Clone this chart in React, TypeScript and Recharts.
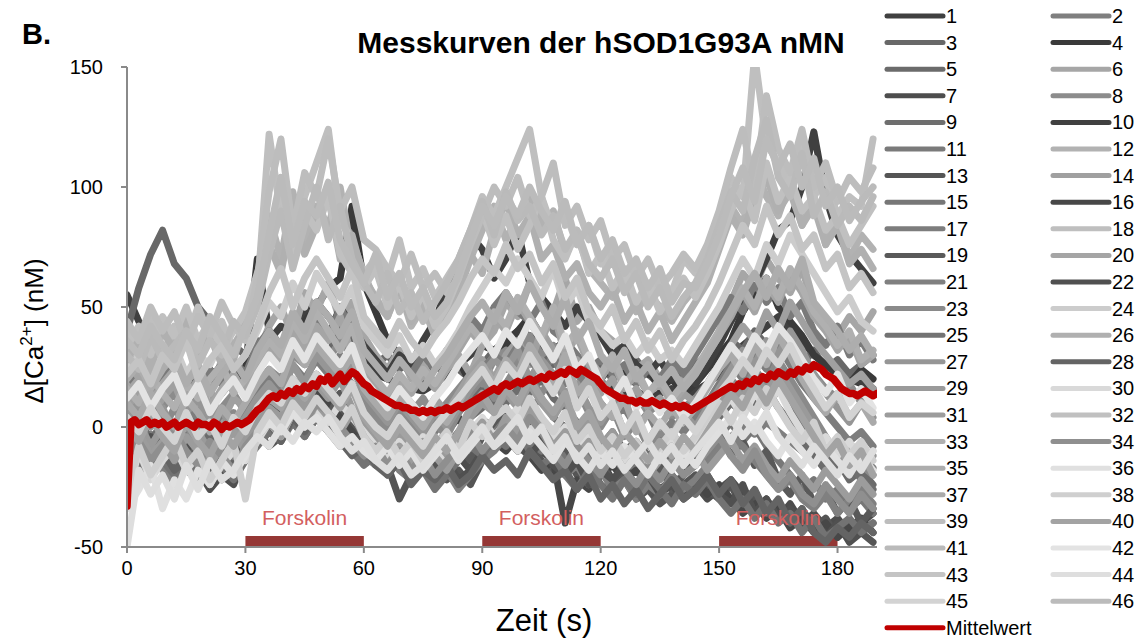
import React from 'react';
import { LineChart, Line, XAxis, YAxis, ReferenceArea } from 'recharts';

// ─── Messkurven hSOD1G93A nMN ──────────────────────────────────
// 46 single-cell traces (sampled every 3 s) plus the mean (every 1 s).

const FONT = '"Liberation Sans", Arial, sans-serif';

const X_TICKS = [0, 30, 60, 90, 120, 150, 180];
const Y_TICKS = [-50, 0, 50, 100, 150];
const FORSKOLIN = [[30, 60], [90, 120], [150, 180]];

const COLORS = [
  '#404040', '#7f7f7f', '#686868', '#3a3a3a', '#6b6b6b', '#a6a6a6', '#4d4d4d', '#8c8c8c',
  '#6e6e6e', '#404040', '#7a7a7a', '#b2b2b2', '#555555', '#a0a0a0', '#777777', '#474747',
  '#7d7d7d', '#bfbfbf', '#595959', '#a5a5a5', '#808080', '#505050', '#8a8a8a', '#cccccc',
  '#737373', '#b0b0b0', '#969696', '#646464', '#9a9a9a', '#d9d9d9', '#9c9c9c', '#c0c0c0',
  '#b0b0b0', '#8f8f8f', '#adadad', '#e0e0e0', '#aaaaaa', '#cfcfcf', '#bdbdbd', '#a3a3a3',
  '#bababa', '#e3e3e3', '#c4c4c4', '#dedede', '#d3d3d3', '#bbbbbb',
];

// t = 0, 3, 6 ... 189 s
const S1 = [55,44,38,30,26,22,20,24,18,21,25,30,36,42,40,48, 52,46,40,34,28,22,20,18,16,15,18,22,26,30,34,32, 36,40,38,34,30,28,24,20,18,16,14,15,12,14,16,13, 15,18,22,28,34,38,42,46,40,36,30,26,22,20,18,16];
const S2 = [-5,-8,-3,-10,-6,-2,-8,-12,-4,-7,-9,-3,2,5,1,6, 4,8,2,-1,-4,-8,-6,-10,-12,-8,-14,-10,-6,-2,3,0, 5,2,7,3,-2,-5,-9,-6,-11,-8,-13,-10,-15,-9,-12,-16, -10,-14,-8,-4,0,-3,2,-2,-6,-10,-14,-12,-18,-15,-20,-17];
const S3 = [40,58,72,82,68,62,50,44,38,34,30,36,32,28,34,40, 36,30,42,38,32,26,30,24,28,22,26,30,24,20,26,32, 28,34,38,30,26,32,28,22,26,20,24,28,22,18,24,20, 26,30,24,36,32,40,34,38,30,26,32,24,28,22,26,30];
const S4 = [20,15,22,12,18,10,16,8,14,20,24,70,40,34,30,44, 50,58,62,92,60,48,36,30,24,20,26,22,28,18,24,30, 34,40,46,38,32,36,28,24,20,26,22,18,24,16,20,14, 18,24,30,36,48,56,62,50,44,38,30,26,22,18,24,20];
const S5 = [8,2,10,4,-2,6,0,-6,3,-4,2,10,14,8,18,12, 20,14,22,16,10,4,-2,-6,-10,-4,-8,-2,6,12,16,10, 18,24,14,20,12,8,2,-4,-8,-2,-10,-6,-12,-8,-14,-10, -6,0,6,12,18,10,16,8,2,-6,-12,-18,-14,-22,-18,-24];
const S6 = [18,24,12,20,26,16,22,14,28,20,18,30,42,50,38,56, 48,60,44,52,38,30,24,32,20,26,18,24,30,22,34,40, 52,46,60,54,48,62,44,50,40,36,30,24,28,20,26,18, 24,30,40,52,64,58,70,62,56,66,50,44,38,46,40,48];
const S7 = [-4,-10,-6,-14,-8,-16,-12,-20,-14,-10,-6,-2,4,-2,6,2, 8,4,10,2,-4,-8,-14,-10,-18,-14,-20,-16,-12,-18,-10,-6, -2,-8,-4,-10,-14,-8,-16,-20,-14,-22,-18,-24,-20,-26,-22,-28, -24,-30,-26,-22,-28,-34,-30,-38,-32,-40,-36,-42,-38,-44,-40,-36];
const S8 = [12,6,16,8,14,4,10,2,8,14,6,18,24,20,30,26, 34,28,36,30,22,16,10,14,6,12,4,10,16,22,18,28, 32,26,38,30,34,28,22,16,20,12,8,14,6,10,4,8, 12,18,26,32,28,36,30,40,34,28,22,16,12,18,10,14];
const S9 = [-2,4,-6,2,-8,0,-4,-10,-2,-6,0,6,10,4,12,8, 16,10,14,6,0,-4,-8,-2,-10,-6,-12,-8,-2,4,8,14, 10,16,8,12,4,0,-6,-2,-10,-6,-14,-8,-12,-16,-10,-14, -8,-2,4,10,6,14,8,16,10,2,-6,-12,-18,-14,-22,-26];
const S10 = [24,30,20,26,18,22,14,20,26,18,24,32,38,30,42,36, 44,38,50,42,34,28,22,30,26,36,44,58,68,80,74,62, 70,82,60,54,48,42,50,44,38,30,34,26,22,28,20,24, 18,26,34,44,52,60,70,82,86,100,123,96,80,72,66,60];
const S11 = [22,16,26,18,30,20,14,24,18,28,22,34,40,32,46,38, 44,36,50,40,32,26,20,28,22,30,24,32,38,46,40,50, 56,48,44,52,40,36,30,24,28,22,26,18,24,20,28,22, 30,38,46,54,48,60,52,58,46,52,40,34,42,30,36,28];
const S12 = [30,38,26,42,34,46,30,40,36,28,44,60,88,70,98,76, 92,84,100,72,64,52,46,58,42,50,38,46,56,70,82,92, 78,88,96,84,90,72,80,66,60,54,62,48,56,50,44,52, 58,66,78,92,84,108,96,88,102,84,96,76,88,70,80,74];
const S13 = [-8,-14,-10,-16,-12,-18,-22,-20,-14,-10,-6,-2,-8,-4,2,-4, 4,-2,6,0,-6,-10,-16,-30,-20,-14,-16,-22,-18,-24,-14,-8, -4,-10,-6,-14,-18,-12,-20,-16,-24,-28,-22,-30,-26,-32,-28,-24, -20,-26,-30,-24,-34,-28,-36,-32,-40,-34,-42,-38,-46,-40,-44,-48];
const S14 = [8,14,4,12,18,6,10,16,2,12,8,16,24,18,32,26, 36,30,24,34,20,14,8,16,10,4,12,6,14,22,28,20, 30,36,26,40,32,24,28,18,14,20,10,16,8,12,6,14, 10,18,26,34,42,36,48,40,52,44,36,30,24,18,22,16];
const S15 = [-12,-6,-14,-8,-16,-10,-4,-12,-8,-14,-6,0,6,2,10,4, 12,6,0,-4,-10,-14,-8,-16,-12,-18,-10,-14,-6,-10,-2,2, -4,2,-6,-10,-4,-12,-16,-10,-18,-14,-20,-16,-22,-18,-24,-20, -16,-10,-4,2,-6,0,-8,-14,-20,-26,-22,-30,-26,-34,-30,-36];
const S16 = [2,-4,6,-2,-8,0,-6,-12,-4,-10,-2,4,10,6,14,8, 16,10,4,-2,-8,-12,-6,-14,-10,-16,-8,-2,4,-4,2,-6, -10,-4,-12,-18,-14,-40,-22,-26,-20,-16,-22,-18,-24,-14,-20,-26, -22,-28,-24,-30,-36,-32,-38,-34,-42,-38,-44,-40,-46,-42,-38,-44];
const S17 = [6,0,10,2,-4,8,4,-2,6,0,8,14,20,14,26,20, 28,22,30,24,16,10,4,8,0,6,-2,4,12,18,24,30, 26,34,28,22,30,18,24,14,10,4,8,0,6,-4,2,-2, 4,10,18,26,20,30,24,34,26,18,12,6,0,-6,-2,-8];
const S18 = [40,34,46,30,42,36,50,38,44,32,40,56,122,88,74,96, 110,124,86,78,64,70,62,78,58,66,54,62,70,82,96,88, 100,112,124,96,82,90,76,84,68,72,60,66,54,62,56,70, 64,72,88,104,96,155,118,110,100,120,96,104,88,96,92,120];
const S19 = [-6,0,-10,-4,-12,-8,-16,-10,-20,-14,-8,-2,4,-4,8,2, 10,4,14,8,0,-6,-12,-8,-16,-10,-20,-14,-8,-14,-4,2, 8,-2,4,-6,-12,-8,-16,-20,-14,-24,-18,-28,-22,-16,-26,-20, -14,-8,-2,-12,-6,-16,-10,-22,-28,-20,-32,-26,-36,-30,-40,-34];
const S20 = [14,20,10,18,24,12,20,8,16,22,14,26,34,28,40,32, 42,36,46,30,24,18,12,20,14,22,16,24,32,40,34,46, 40,52,44,36,48,30,38,26,20,28,16,22,14,18,10,16, 22,30,38,46,56,48,60,52,64,56,46,40,32,38,26,30];
const S21 = [-14,-20,-10,-18,-24,-12,-20,-16,-22,-14,-10,-4,2,-2,6,0, 4,-2,-8,-4,-12,-16,-10,-18,-22,-16,-24,-18,-26,-20,-14,-10, -4,-10,-2,-8,-14,-20,-16,-24,-18,-26,-22,-30,-24,-28,-20,-26, -22,-16,-10,-4,-8,-14,-20,-26,-22,-30,-34,-28,-36,-30,-26,-32];
const S22 = [-6,-12,-4,-10,-14,-8,-18,-26,-20,-24,-12,-6,0,-4,4,-2, 6,2,-4,-8,-2,-10,-14,-8,-16,-12,-20,-14,-22,-18,-10,-6, -2,-8,-12,-6,-16,-20,-14,-24,-18,-22,-16,-26,-20,-28,-24,-30, -26,-20,-28,-32,-24,-36,-30,-38,-34,-42,-38,-46,-40,-48,-44,-40];
const S23 = [2,-4,6,-2,8,0,-6,4,-2,6,0,8,16,10,20,14, 22,16,24,18,10,4,-2,6,0,-6,2,-4,6,14,20,12, 18,26,20,14,22,10,16,6,0,8,-4,2,-8,-2,-6,-10, -4,4,12,20,14,24,18,28,20,12,4,-4,-12,-6,-16,-20];
const S24 = [24,30,20,28,34,22,30,26,36,24,30,40,52,46,60,50, 64,56,48,58,42,36,30,38,28,34,26,32,40,50,58,66, 60,70,62,54,66,50,58,44,40,34,38,30,36,28,32,26, 34,42,50,60,70,62,76,68,80,72,64,56,48,54,44,40];
const S25 = [-10,-16,-8,-14,-20,-12,-18,-10,-16,-22,-14,-8,-2,-6,2,-4, 4,0,-6,-10,-16,-12,-20,-14,-22,-18,-26,-20,-14,-8,-12,-4, -8,-2,-10,-16,-12,-20,-26,-18,-24,-30,-22,-28,-20,-26,-32,-24, -28,-22,-30,-36,-30,-38,-32,-40,-36,-44,-38,-46,-42,-38,-44,-40];
const S26 = [28,36,24,40,32,44,30,38,26,34,42,58,76,64,90,72, 84,96,70,80,62,54,46,60,44,52,40,48,58,72,64,82, 94,80,88,70,76,62,68,56,50,58,44,52,40,48,36,44, 52,60,74,88,80,96,104,90,98,84,92,76,84,68,74,66];
const S27 = [4,10,0,8,-2,6,12,2,8,-4,4,12,18,12,26,18, 30,24,18,26,14,8,2,10,4,-2,6,0,8,16,22,28, 24,32,20,28,22,14,18,8,2,10,-2,4,-6,2,-4,6, 0,8,16,24,32,26,36,30,40,32,22,14,8,2,10,4];
const S28 = [-12,-6,-16,-10,-18,-14,-8,-20,-12,-16,-10,-4,2,-6,4,-2, 6,0,-6,-12,-8,-16,-20,-14,-24,-18,-22,-16,-24,-20,-12,-18, -14,-20,-10,-16,-22,-18,-26,-20,-30,-24,-32,-26,-34,-28,-22,-30, -26,-20,-28,-22,-32,-26,-36,-30,-40,-34,-44,-48,-42,-46,-40,-44];
const S29 = [-4,2,-8,0,-6,4,-2,-10,-4,2,-6,2,8,4,14,8, 18,12,20,8,2,-4,-10,-2,-8,-14,-6,-12,-4,4,10,6, 14,8,18,10,4,12,-2,4,-8,-2,-12,-6,-14,-8,-2,-10, -6,2,10,18,12,22,14,24,16,8,0,-8,-14,-10,-18,-12];
const S30 = [-30,-10,-22,-14,-8,-18,-12,-24,-16,-10,-14,-6,2,-4,6,0, 8,2,10,4,-2,-8,-14,-6,-12,-4,-10,-16,-8,-2,4,-4, 2,8,-2,4,-6,0,-10,-4,-12,-6,-14,-8,-16,-10,-4,-12, -6,0,6,12,4,14,8,16,6,-2,-8,-4,-12,-6,-14,-10];
const S31 = [-8,-2,-12,-6,-14,-4,-10,-16,-8,-2,-10,-4,2,-4,6,0, 10,4,-2,6,-4,-10,-16,-8,-14,-6,-12,-18,-10,-4,2,-6, 4,-2,8,0,-8,-2,-12,-6,-16,-10,-18,-12,-20,-14,-8,-16, -10,-18,-12,-6,-14,-8,-16,-22,-14,-20,-26,-18,-24,-30,-22,-28];
const S32 = [34,42,30,46,38,50,36,44,32,40,48,64,80,100,74,90, 82,96,72,64,58,66,50,60,46,56,42,50,62,80,90,76, 88,74,84,96,78,70,82,64,72,58,66,52,60,48,56,62, 54,64,76,90,100,86,110,94,104,90,96,82,88,76,84,92];
const S33 = [16,10,22,14,8,18,12,20,26,14,20,28,36,30,44,36, 48,40,32,42,26,20,14,22,16,24,18,26,34,42,36,48, 42,54,46,38,50,34,40,28,22,30,18,24,14,20,12,18, 24,32,40,48,58,50,62,54,66,58,48,42,34,40,28,32];
const S34 = [-12,-6,-14,-8,-2,-10,-16,-6,-12,-18,-8,-2,4,0,8,2, 10,6,0,-6,-12,-8,-16,-10,-18,-12,-20,-14,-8,-2,-10,-4, 0,-6,4,-2,-10,-16,-8,-14,-20,-12,-18,-24,-16,-22,-14,-20, -16,-10,-4,-12,-18,-10,-20,-26,-20,-28,-32,-24,-30,-36,-28,-34];
const S35 = [20,26,16,24,30,18,26,14,22,28,20,32,40,34,48,40, 52,46,38,48,32,26,20,28,22,16,24,30,38,46,52,44, 56,48,60,50,42,54,36,44,30,24,32,20,26,18,24,16, 22,30,38,48,56,64,54,66,58,70,52,46,40,32,38,30];
const S36 = [-34,-26,-16,-34,-22,-30,-18,-24,-14,-20,-12,-4,2,-2,6,0, 4,-2,-8,-4,-10,-14,-8,-16,-10,-18,-12,-6,-14,-8,-2,-8, -4,-10,-2,-8,-14,-6,-12,-18,-10,-16,-8,-14,-20,-12,-18,-10, -16,-8,-2,4,-4,2,-6,-12,-4,-10,-16,-8,-14,-20,-12,-18];
const S37 = [10,4,14,6,0,12,6,-2,8,2,10,18,24,18,32,26, 34,28,22,30,16,10,4,12,6,0,8,2,10,20,26,18, 28,22,34,26,18,30,14,20,10,4,12,-2,6,0,8,2, 8,16,24,30,22,34,26,38,30,20,12,6,14,4,10,2];
const S38 = [-28,-8,-20,-12,-4,-16,-10,-22,-14,-6,-30,-2,6,0,10,4, 12,6,0,8,-4,-10,-4,-12,-6,-14,-8,-2,-10,2,-4,4, 8,2,12,4,-2,6,-6,0,-10,-4,-12,-6,-14,-8,-2,-10, -4,4,10,2,12,6,16,8,0,-6,2,-10,-4,-12,-6,-14];
const S39 = [44,36,50,40,48,34,46,38,52,42,36,62,98,120,82,106, 96,120,90,100,78,74,66,60,72,58,64,56,62,76,88,100, 92,104,88,96,110,84,92,78,86,70,76,62,70,58,64,72, 66,76,90,108,124,100,138,116,106,124,100,110,94,104,98,108];
const S40 = [0,-6,4,-4,-10,2,-6,-12,-2,-8,0,6,12,8,18,12, 20,14,8,16,4,-2,-8,0,-6,-12,-4,-10,-2,8,14,6, 16,10,20,12,6,14,0,6,-4,-10,-2,-8,-14,-6,-12,-4, -10,-2,6,14,8,18,10,20,12,4,-4,-12,-6,-16,-10,-20];
const S41 = [30,24,38,28,34,40,26,36,30,44,38,50,72,90,66,84, 100,78,92,70,60,52,64,48,56,44,52,60,70,82,94,80, 98,86,92,80,88,74,82,68,62,70,56,64,50,58,46,54, 60,70,84,98,90,112,128,104,96,114,88,98,84,92,86,96];
const S42 = [12,18,8,16,22,10,18,6,14,20,12,22,30,24,36,28, 38,32,26,34,20,14,8,16,10,4,12,18,26,32,38,30, 40,34,44,36,28,38,24,30,18,12,20,8,14,6,12,4, 10,18,26,34,28,38,32,42,36,28,20,14,22,10,16,8];
const S43 = [22,28,18,30,24,36,20,28,34,24,30,42,56,66,50,62, 70,62,54,66,46,40,34,44,36,30,38,44,52,62,70,64, 76,66,72,60,68,54,62,48,42,50,36,44,32,40,28,36, 42,50,60,72,84,76,92,80,88,74,80,66,72,58,64,56];
const S44 = [-50,-18,-28,-20,-30,-16,-26,-14,-22,-18,-10,-4,-8,0,-6,2, -2,4,-4,-10,-6,-14,-18,-12,-20,-16,-10,-4,-12,-6,0,-8, -2,4,-6,0,-10,-4,-14,-8,-16,-10,-18,-12,-6,-14,-8,-16, -10,-4,2,-6,4,-2,6,-4,-10,-16,-8,-14,-20,-12,-18,-10];
const S45 = [4,-2,8,0,-6,6,-4,2,-8,4,-2,8,14,10,20,14, 22,16,10,18,6,0,-4,4,-2,-8,0,6,12,18,24,16, 26,20,30,22,14,24,8,16,4,10,-2,6,-6,2,-4,4, -2,6,14,20,28,22,32,26,34,24,16,8,14,4,10,6];
const S46 = [36,30,42,34,28,40,32,46,38,30,42,54,80,104,76,94, 88,102,78,68,60,72,54,64,50,58,46,52,64,78,92,84, 96,88,100,90,82,94,76,84,70,78,64,70,58,66,52,60, 58,68,80,96,108,94,120,108,118,100,112,92,100,86,94,100];

const SERIES = [
  S1, S2, S3, S4, S5, S6, S7, S8, S9, S10, S11, S12, S13, S14, S15, S16,
  S17, S18, S19, S20, S21, S22, S23, S24, S25, S26, S27, S28, S29, S30, S31, S32,
  S33, S34, S35, S36, S37, S38, S39, S40, S41, S42, S43, S44, S45, S46,
];

// Mittelwert, t = 0 ... 190 s
const MEAN = [
  -33,2,3,1,2,3,1,2,1,2, 0,1,2,0,1,2,1,0,2,1, 1,0,2,1,-1,1,0,1,2,1,
  2,3,5,7,8,10,12,13,12,14, 13,15,14,16,15,17,16,18,17,20, 19,21,18,20,22,19,21,23,22,20,
  18,17,15,14,13,12,11,10,9,9, 8,8,7,7,6,7,6,7,6,7, 7,8,7,8,9,8,9,10,11,12,
  13,14,15,16,15,17,18,17,18,19, 18,19,20,19,20,21,20,22,21,22, 23,22,24,23,22,24,23,22,21,20,
  18,16,15,14,13,12,12,11,11,10, 11,10,10,11,10,9,10,9,8,9, 8,9,8,7,8,9,10,11,12,13,
  14,15,16,17,16,18,17,19,18,20, 19,21,20,22,21,23,22,21,23,22, 24,23,25,24,26,25,24,22,21,20,
  18,16,15,14,14,13,14,15,14,13, 14,
];

const SAMPLE_STEP = 3;

const data = MEAN.map((m, t) => {
  const row: Record<string, number> = { t, mean: m };
  if (t % SAMPLE_STEP === 0) {
    const i = t / SAMPLE_STEP;
    SERIES.forEach((s, k) => {
      if (i < s.length) row[`s${k + 1}`] = s[i];
    });
  }
  return row;
});

const AXIS_GREY = '#8a8a8a';

function Legend() {
  const items = SERIES.map((_, k) => ({ name: `${k + 1}`, color: COLORS[k], col: k % 2, row: Math.floor(k / 2) }));
  items.push({ name: 'Mittelwert', color: '#c00000', col: 0, row: 23 });
  return (
    <g>
      {items.map((it) => {
        const x = it.col === 0 ? 887 : 1053;
        const y = 16 + it.row * 26.6;
        return (
          <g key={it.name}>
            <line x1={x} x2={x + 56} y1={y} y2={y} stroke={it.color} strokeWidth={5} strokeLinecap="round" />
            <text x={x + 59} y={y + 7} fontSize={20} fill="#000" fontFamily={FONT}>{it.name}</text>
          </g>
        );
      })}
    </g>
  );
}

export default function App() {
  return (
    <div style={{ position: 'absolute', left: 0, top: 0, width: 1139, height: 641, background: '#fff' }}>
      <LineChart width={1139} height={641} data={data} margin={{ top: 67, right: 262, bottom: 64, left: 67 }}>
        <XAxis
          type="number"
          dataKey="t"
          domain={[0, 190]}
          ticks={X_TICKS}
          allowDataOverflow
          stroke={AXIS_GREY}
          strokeWidth={2}
          tickSize={6}
          tickMargin={8}
          height={30}
          tick={{ fill: '#000', fontSize: 20, fontFamily: FONT }}
        />
        <YAxis
          type="number"
          domain={[-50, 150]}
          ticks={Y_TICKS}
          allowDataOverflow
          stroke={AXIS_GREY}
          strokeWidth={2}
          tickSize={6}
          tickMargin={18}
          width={60}
          tick={{ fill: '#000', fontSize: 20, fontFamily: FONT }}
        />
        {FORSKOLIN.map(([a, b]) => (
          <ReferenceArea
            key={a}
            x1={a}
            x2={b}
            y1={-50}
            y2={-45.4}
            fill="#953735"
            fillOpacity={1}
            stroke="none"
            label={{ value: 'Forskolin', position: 'top', offset: 11, fill: '#d35f5f', fontSize: 21, fontFamily: FONT }}
          />
        ))}
        {SERIES.map((_, k) => (
          <Line
            key={k}
            dataKey={`s${k + 1}`}
            type="linear"
            stroke={COLORS[k]}
            strokeWidth={7}
            strokeLinejoin="round"
            strokeLinecap="round"
            dot={false}
            connectNulls
            isAnimationActive={false}
          />
        ))}
        <Line
          dataKey="mean"
          type="linear"
          stroke="#c00000"
          strokeWidth={7.5}
          strokeLinejoin="round"
          strokeLinecap="round"
          dot={false}
          isAnimationActive={false}
        />
      </LineChart>

      <svg width={1139} height={641} style={{ position: 'absolute', left: 0, top: 0, pointerEvents: 'none' }}>
        <text x={22} y={44} fontSize={29} fontWeight="bold" fontFamily={FONT}>B.</text>
        <text x={601} y={53} fontSize={30} fontWeight="bold" textAnchor="middle" fontFamily={FONT}>
          Messkurven der hSOD1G93A nMN
        </text>
        <text x={544} y={631} fontSize={31} textAnchor="middle" fontFamily={FONT}>Zeit (s)</text>
        <text transform="translate(43, 331) rotate(-90)" fontSize={26} textAnchor="middle" fontFamily={FONT}>
          Δ[Ca<tspan fontSize={17} dy={-11}>2+</tspan><tspan dy={11}>] (nM)</tspan>
        </text>
        <Legend />
      </svg>
    </div>
  );
}
